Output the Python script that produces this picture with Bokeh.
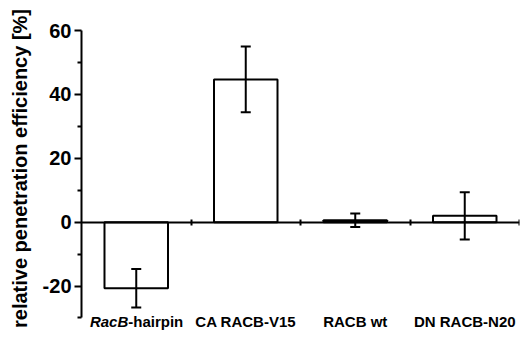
from bokeh.plotting import figure
from bokeh.models import Range1d, LinearAxis, FixedTicker, Whisker, ColumnDataSource, Label, TeeHead
from bokeh.embed import file_html
from bokeh.resources import INLINE

# ---- data ----
categories = ["RacB-hairpin", "CA RACB-V15", "RACB wt", "DN RACB-N20"]
italic_part = "RacB"
values = [-20.7, 44.7, 0.6, 2.0]
errors = [6.0, 10.3, 2.1, 7.4]
y_major_ticks = [-20, 0, 20, 40, 60]
y_minor_ticks = [-30, -10, 10, 30, 50]
y_axis_bounds = (-30, 60)
y_label = "relative penetration efficiency [%]"

FONT = "Liberation Sans"
n = len(categories)
positions = [i + 0.5 for i in range(n)]
boundaries = [i + 1 for i in range(n)]

p = figure(width=522, height=336,
           x_range=Range1d(0, n), y_range=Range1d(-35.8, 69.4),
           x_axis_type=None, y_axis_type=None,
           output_backend="svg", toolbar_location=None,
           min_border_left=81, min_border_right=3,
           min_border_top=0, min_border_bottom=0)
p.outline_line_color = None
p.background_fill_color = "white"
p.border_fill_color = "white"

yaxis = LinearAxis(ticker=FixedTicker(ticks=y_major_ticks, minor_ticks=y_minor_ticks),
                   axis_label=y_label, bounds=y_axis_bounds)
yaxis.major_label_overrides = {t: str(t) for t in y_major_ticks}
yaxis.axis_line_width = 2
yaxis.axis_line_color = "black"
yaxis.major_tick_line_width = 2
yaxis.minor_tick_line_width = 2
yaxis.major_tick_line_color = "black"
yaxis.minor_tick_line_color = "black"
yaxis.major_tick_out = 7
yaxis.major_tick_in = 0
yaxis.minor_tick_out = 4
yaxis.minor_tick_in = 0
yaxis.major_label_text_font = FONT
yaxis.major_label_text_font_size = "20px"
yaxis.major_label_text_font_style = "bold"
yaxis.major_label_text_color = "black"
yaxis.major_label_standoff = 3
yaxis.axis_label_text_font = FONT
yaxis.axis_label_text_font_size = "20px"
yaxis.axis_label_text_font_style = "bold"
yaxis.axis_label_text_color = "black"
yaxis.axis_label_standoff = 9
p.add_layout(yaxis, "left")

xaxis = LinearAxis(ticker=FixedTicker(ticks=boundaries), fixed_location=0)
xaxis.axis_line_width = 2
xaxis.axis_line_color = "black"
xaxis.major_tick_line_width = 2
xaxis.major_tick_line_color = "black"
xaxis.major_tick_in = 3
xaxis.major_tick_out = 3
xaxis.minor_tick_line_color = None
xaxis.major_label_text_color = None
p.add_layout(xaxis, "below")

p.vbar(x=positions, top=values, bottom=0, width=0.58,
       fill_color="white", line_color="black", line_width=2)

src = ColumnDataSource(dict(
    x=positions,
    upper=[v + e for v, e in zip(values, errors)],
    lower=[v - e for v, e in zip(values, errors)],
))
w = Whisker(base="x", upper="upper", lower="lower", source=src,
            line_color="black", line_width=2, level="annotation",
            upper_head=TeeHead(size=10, line_width=2, line_color="black"),
            lower_head=TeeHead(size=10, line_width=2, line_color="black"))
p.add_layout(w)

lab_kw = dict(text_font=FONT, text_font_size="15px", text_color="black",
              text_baseline="middle", y=-30, y_offset=-4)
for i, cat in enumerate(categories):
    if i == 0 and cat.startswith(italic_part):
        rest = cat[len(italic_part):]
        p.add_layout(Label(x=positions[i], text=italic_part, text_align="right",
                           text_font_style="bold italic", x_offset=-8, **lab_kw))
        p.add_layout(Label(x=positions[i], text=rest, text_align="left",
                           text_font_style="bold", x_offset=-8, **lab_kw))
    else:
        p.add_layout(Label(x=positions[i], text=cat, text_align="center",
                           text_font_style="bold", **lab_kw))

open("out.html", "w").write(file_html(p, INLINE))
